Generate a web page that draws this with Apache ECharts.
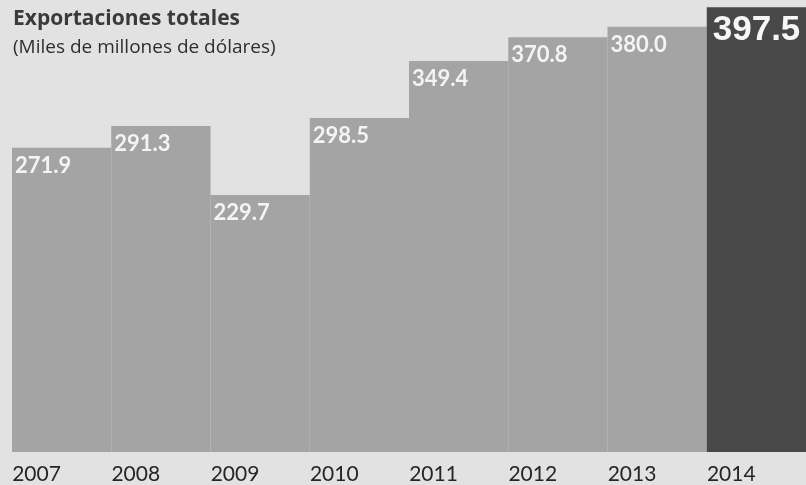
<!DOCTYPE html>
<html>
<head>
<meta charset="utf-8">
<script src="https://cdn.jsdelivr.net/npm/echarts@6/dist/echarts.min.js"></script>
<style>
html,body{margin:0;padding:0;background:#e2e2e2;}
#chart{width:806px;height:485px;}
</style>
</head>
<body>
<div id="chart"></div>
<script>
const years = ['2007','2008','2009','2010','2011','2012','2013','2014'];
const exportsValues = [271.9, 291.3, 229.7, 298.5, 349.4, 370.8, 380.0, 397.5];
const titleText = 'Exportaciones totales';
const subtitleText = '(Miles de millones de dólares)';

const chart = echarts.init(document.getElementById('chart'));
const lastIdx = exportsValues.length - 1;
const data = exportsValues.map((v, i) => {
  if (i === lastIdx) {
    return {
      value: v,
      itemStyle: { color: '#484848' },
      label: {
        fontFamily: '"Liberation Sans", Arial, sans-serif',
        fontSize: 35,
        fontWeight: 'bold',
        color: '#f6f6f6',
        offset: [1, 1]
      }
    };
  }
  return v;
});

chart.setOption({
  backgroundColor: '#e2e2e2',
  title: {
    text: titleText,
    subtext: subtitleText,
    left: 8,
    top: 4,
    itemGap: 8,
    textStyle: { fontFamily: '"Open Sans"', fontWeight: 'bold', fontSize: 21, color: '#3a3a3a' },
    subtextStyle: { fontFamily: '"Open Sans"', fontSize: 19, color: '#2e2e2e' }
  },
  grid: { left: 12, right: 0, top: 0, bottom: 29 },
  xAxis: {
    type: 'category',
    data: years,
    axisLine: { show: false },
    axisTick: { show: false },
    axisLabel: {
      interval: 0,
      margin: 12,
      formatter: v => '{a|' + v + '}',
      rich: {
        a: { width: 99, align: 'left', fontFamily: 'Lato', fontSize: 21, color: '#262626' }
      }
    }
  },
  yAxis: { type: 'value', min: 0, max: 404, show: false, splitLine: { show: false } },
  series: [{
    type: 'bar',
    data: data,
    barCategoryGap: 0,
    itemStyle: { color: '#a4a4a4' },
    label: {
      show: true,
      position: 'insideTopLeft',
      distance: 5,
      offset: [-2, 2],
      color: '#f4f4f4',
      fontFamily: 'Lato',
      fontWeight: 'bold',
      fontSize: 22,
      formatter: p => p.value.toFixed(1)
    },
    silent: true,
    animation: false
  }],
  animation: false
});
</script>
</body>
</html>
